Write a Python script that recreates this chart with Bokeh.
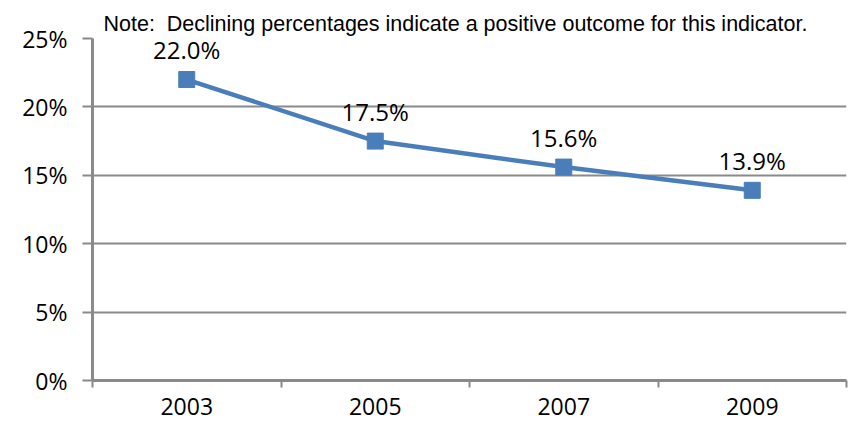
from bokeh.plotting import figure
from bokeh.models import (FactorRange, Range1d, LinearAxis, CategoricalAxis, FixedTicker,
                          NumeralTickFormatter, ColumnDataSource)
from bokeh.core.properties import value
from bokeh.embed import file_html
from bokeh.resources import INLINE

years = ["2003", "2005", "2007", "2009"]
rates = [0.220, 0.175, 0.156, 0.139]
labels = ["22.0%", "17.5%", "15.6%", "13.9%"]
y_ticks = [0, 0.05, 0.10, 0.15, 0.20, 0.25]
note = "Note:\u00a0\u00a0Declining percentages indicate a positive outcome for this indicator."

src = ColumnDataSource(dict(year=years, rate=rates, label=labels))

W, H = 852, 438
p = figure(width=W, height=H, x_range=FactorRange(factors=years, range_padding=0),
           y_range=Range1d(0, 0.25), output_backend="svg", toolbar_location=None,
           x_axis_location=None, y_axis_location=None,
           min_border_left=92, min_border_right=6, min_border_top=38, min_border_bottom=58)
p.outline_line_color = None
p.background_fill_color = "white"

p.title.text = note
p.title.align = "left"
p.title.offset = 11
p.title.text_font = "Liberation Sans"
p.title.text_font_size = "21.5px"
p.title.text_font_style = "normal"
p.title.text_color = "black"
p.title.standoff = 6

GRAY = "#8a8a8a"
TICKFONT = "Open Sans"

# y axis
yax = LinearAxis(ticker=FixedTicker(ticks=y_ticks), formatter=NumeralTickFormatter(format="0%"))
yax.axis_line_color = GRAY
yax.axis_line_width = 3
yax.major_tick_line_color = GRAY
yax.major_tick_line_width = 2
yax.major_tick_out = 10
yax.major_tick_in = 0
yax.minor_tick_line_color = None
yax.major_label_standoff = 15
yax.major_label_text_font = TICKFONT
yax.major_label_text_font_size = "23px"
yax.major_label_text_color = "black"
p.add_layout(yax, "left")

# grid
p.ygrid.ticker = FixedTicker(ticks=y_ticks)
p.ygrid.grid_line_color = GRAY
p.ygrid.grid_line_width = 2
p.xgrid.grid_line_color = None

# x axis with ticks at category boundaries (synthetic positions 0..n)
xt = LinearAxis(ticker=FixedTicker(ticks=list(range(len(years) + 1))))
xt.axis_line_color = GRAY
xt.axis_line_width = 3
xt.major_tick_line_color = GRAY
xt.major_tick_line_width = 2
xt.major_tick_out = 7
xt.major_tick_in = 0
xt.minor_tick_line_color = None
xt.major_label_text_color = None
xt.major_label_text_font_size = "1px"
xt.major_label_standoff = 0
p.add_layout(xt, "below")

xc = CategoricalAxis()
xc.axis_line_color = None
xc.major_tick_line_color = None
xc.major_tick_out = 0
xc.major_label_standoff = 10
xc.major_label_text_font = TICKFONT
xc.major_label_text_font_size = "23px"
xc.major_label_text_color = "black"
p.add_layout(xc, "below")

BLUE = "#4a7ebb"
p.line("year", "rate", source=src, line_color=BLUE, line_width=4.5)
p.scatter("year", "rate", source=src, marker="square", size=16, fill_color=BLUE, line_color=BLUE)
p.text("year", "rate", text="label", source=src, y_offset=-30, text_align="center",
       text_baseline="middle", text_font=value(TICKFONT), text_font_size="24px", text_color="black")

open("out.html", "w").write(file_html(p, INLINE))
